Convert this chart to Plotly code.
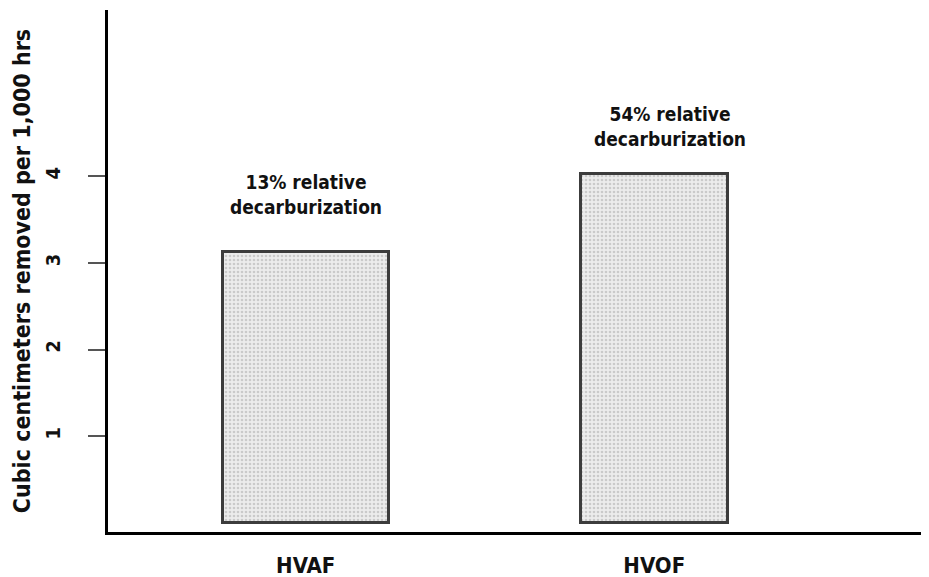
import plotly.graph_objects as go

categories = ["HVAF", "HVOF"]
values = [3.12, 4.03]
notes = ["13% relative<br>decarburization", "54% relative<br>decarburization"]
y_ticks = [1, 2, 3, 4]
y_title = "Cubic centimeters removed per 1,000 hrs"

FONT = "DejaVu Sans Condensed, DejaVu Sans"

fig = go.Figure()
fig.add_trace(go.Bar(
    x=categories,
    y=values,
    width=[0.476, 0.421],
    marker=dict(
        color="#e6e6e6",
        line=dict(color="#3c3c3c", width=3),
        pattern=dict(shape=".", fgcolor="#a8a8a8", bgcolor="#ececec", size=4, solidity=0.35),
    ),
    hoverinfo="skip",
))

xshifts = [0, 16]
yshifts = [32, 22]
for cat, v, note, xs, ys in zip(categories, values, notes, xshifts, yshifts):
    fig.add_annotation(
        x=cat, y=v, text=note, showarrow=False,
        xanchor="center", yanchor="bottom", yshift=ys, xshift=xs,
        font=dict(family=FONT, size=19, color="#111111", weight="bold"),
        align="center",
    )

# page body has an 8px margin, so the figure is sized/offset to compensate
fig.update_layout(
    width=921, height=569,
    margin=dict(l=100, r=0, t=2, b=45),
    paper_bgcolor="white", plot_bgcolor="white",
    showlegend=False,
    bargap=0,
)
fig.update_xaxes(
    range=[-0.567, 1.788],
    automargin=False,
    showline=True, linecolor="#000000", linewidth=3,
    ticks="", showgrid=False, zeroline=False,
    tickfont=dict(family=FONT, size=22, color="#111111", weight="bold"),
    ticklabelstandoff=12,
)
fig.update_yaxes(
    range=[-0.104, 5.917],
    automargin=False,
    tickvals=y_ticks, ticktext=[str(t) for t in y_ticks],
    tickangle=-90,
    showline=True, linecolor="#000000", linewidth=3,
    ticks="outside", ticklen=17, tickwidth=1.5, tickcolor="#555555",
    showgrid=False, zeroline=False,
    tickfont=dict(family=FONT, size=20, color="#111111", weight="bold"),
    ticklabelstandoff=20,
    title=dict(text=y_title, standoff=4,
               font=dict(family=FONT, size=23, color="#111111", weight="bold")),
)

fig.write_html("out.html")
